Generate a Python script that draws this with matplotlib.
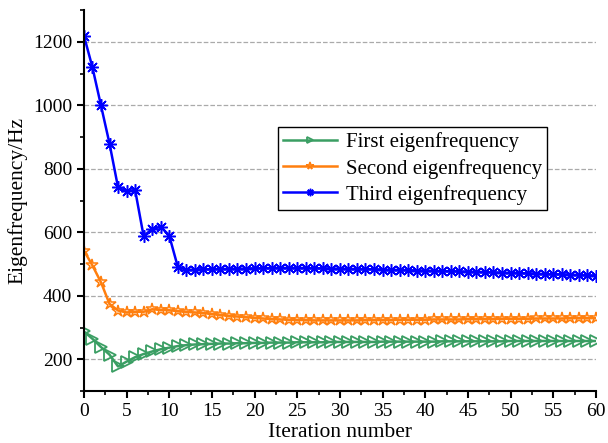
import matplotlib
matplotlib.use("Agg")
import matplotlib.pyplot as plt
from matplotlib.ticker import MultipleLocator

plt.rcParams['font.family'] = ['Liberation Serif', 'DejaVu Serif']

iterations = list(range(61))
first = [288,265,239,215,178,193,207,217,225,232,237,242,245,247,248,249,250,250,251,251,
         252,252,253,253,253,254,254,254,254,255,255,255,255,255,255,256,256,256,256,256,
         256,256,257,257,257,257,257,257,257,257,258,258,258,258,258,258,258,258,258,258,258]
second = [543,496,443,375,354,348,350,350,358,356,355,352,350,348,346,343,340,337,335,333,
          331,329,327,326,325,324,324,323,323,323,323,323,323,324,324,324,324,325,325,325,
          325,326,326,326,326,327,327,327,327,328,328,328,328,329,329,329,329,330,330,330,330]
third = [1220,1120,1000,880,742,729,734,588,611,618,590,492,482,483,484,484,485,485,486,486,
         487,487,488,488,488,488,488,487,487,486,486,485,485,484,484,483,482,482,481,480,
         480,479,478,478,477,476,476,475,474,473,473,472,471,470,469,468,468,467,466,465,464]
labels = ["First eigenfrequency", "Second eigenfrequency", "Third eigenfrequency"]
assert len(first) == len(second) == len(third) == 61

fig = plt.figure(figsize=(6.08, 4.43), dpi=100)
ax = fig.add_axes([0.138, 0.117, 0.842, 0.860])

ax.plot(iterations, first, color='#3a9e63', lw=1.8, marker='>', ms=8,
        mfc='none', mec='#3a9e63', mew=1.3, label=labels[0])
ax.plot(iterations, second, color='#ff7f0e', lw=1.8, marker='*', ms=9,
        mfc='none', mec='#ff7f0e', mew=1.1, label=labels[1])
ax.plot(iterations, third, color='#0000ff', lw=1.8, marker=(8, 2, 0), ms=9,
        mec='#0000ff', mew=1.1, label=labels[2])

ax.set_xlim(0, 60)
ax.set_ylim(100, 1300)
ax.xaxis.set_major_locator(MultipleLocator(5))
ax.xaxis.set_minor_locator(MultipleLocator(2.5))
ax.set_yticks([200, 400, 600, 800, 1000, 1200])
ax.yaxis.set_minor_locator(MultipleLocator(100))
ax.yaxis.grid(True, which='major', linestyle='--', color='#aaaaaa', lw=0.9)
ax.set_axisbelow(True)

for s in ['top', 'right']:
    ax.spines[s].set_visible(False)
for s in ['left', 'bottom']:
    ax.spines[s].set_linewidth(1.5)

ax.tick_params(which='major', direction='out', length=5, width=1.5, labelsize=14)
ax.tick_params(which='minor', direction='out', length=3, width=1.2)

ax.set_xlabel("Iteration number", fontsize=15.5, labelpad=2)
ax.set_ylabel("Eigenfrequency/Hz", fontsize=15.5, labelpad=4)

leg = ax.legend(loc='upper right', bbox_to_anchor=(0.925, 0.72), fontsize=15,
                frameon=True, fancybox=False, edgecolor='black', framealpha=1,
                handlelength=2.6, borderpad=0.25, labelspacing=0.3, handletextpad=0.4,
                markerscale=0.6)
leg.get_frame().set_linewidth(1.0)

fig.savefig("out.png", dpi=100)
